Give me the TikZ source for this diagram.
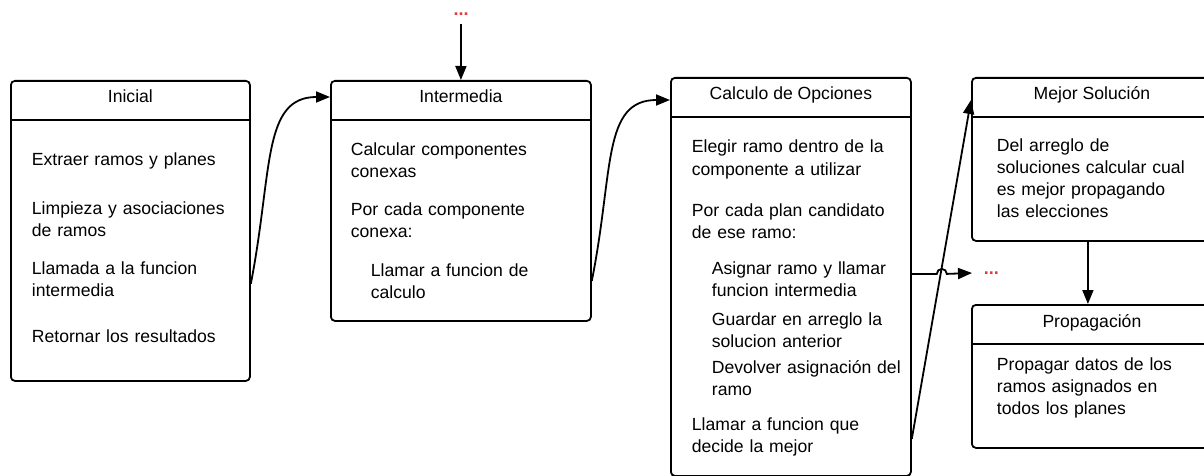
\documentclass[tikz,border=0pt]{standalone}
\usepackage{fontspec}
\setmainfont{Liberation Sans}
\usetikzlibrary{arrows.meta,calc}
\definecolor{dotred}{HTML}{E23B3F}

\begin{document}
\begin{tikzpicture}[x=1pt,y=-1pt,line width=1.8pt,>={Triangle[length=14pt,width=11pt]}]
\tikzstyle{stage}=[draw,rounded corners=4pt,inner sep=0,anchor=north west]
\tikzstyle{stagetitle}=[anchor=base,inner sep=0,font=\fontsize{17.6}{22}\selectfont]
\tikzstyle{item}=[anchor=base west,inner sep=0,text width=230pt,align=left,font=\fontsize{17.6}{22}\selectfont]
\tikzstyle{more}=[text=dotred,inner sep=0,font=\fontsize{18}{18}\selectfont\bfseries]
\clip (0,0) rectangle (1204,476);
\foreach \n/\x/\y/\w/\h/\t in {ini/10/80/239/300/Inicial,inter/330/80/260/240/Intermedia,calc/670/77/240/398/Calculo de Opciones,mejor/971/77/240/163/Mejor Solución,prop/971/304/240/143/Propagación}{
\node[stage,minimum width=\w,minimum height=\h] (\n) at (\x,\y) {};
\draw ([yshift=-40pt]\n.north west) -- ([yshift=-40pt]\n.north east);
\node[stagetitle] (\n t) at ($(\n.north)+(0,23)$) {\t};
};
\foreach \x/\y/\s [count=\i] in {31/165/{Extraer ramos y planes},31/214/{Limpieza y asociaciones\\de ramos},31/274/{Llamada a la funcion\\intermedia},31/342/{Retornar los resultados},
350/155/{Calcular componentes\\conexas},350/215/{Por cada componente\\conexa:},370/276/{Llamar a funcion de\\calculo},
691/153/{Elegir ramo dentro de la\\componente a utilizar},691/216/{Por cada plan candidato\\de ese ramo:},711/274/{Asignar ramo y llamar\\funcion intermedia},711/325/{Guardar en arreglo la\\solucion anterior},711/373/{Devolver asignación del\\ramo},691/430/{Llamar a funcion que\\decide la mejor},
996/151/{Del arreglo de\\soluciones calcular cual\\es mejor propagando\\las elecciones},996/370/{Propagar datos de los\\ramos asignados en\\todos los planes}}{
\node[item] (item\i) at (\x,\y) {\s};
};
\node[more,inner ysep=8pt] (more1) at (461,14) {...};
\node[more,anchor=west,inner xsep=11pt] (more2) at (972,273) {...};
\draw[->] (more1.south) -- (inter.north);
\draw[->] ([yshift=-53pt]ini.east) .. controls +(22,-113) and +(-68,0) .. ([yshift=-17pt]inter.north west);
\draw[->] ([yshift=-80pt]inter.east) .. controls +(22,-110) and +(-68,0) .. ([yshift=-23pt]calc.north west);
\draw[->] ([yshift=3pt]calc.east) -- ++(25,0) arc[start angle=180,end angle=360,radius=5] -- (more2.west);
\draw[->] ([yshift=-162pt]calc.east) -- ([yshift=-23pt]mejor.north west);
\draw[->] ([xshift=-4pt]mejor.south) -- ([xshift=-4pt]prop.north);
\end{tikzpicture}
\end{document}
